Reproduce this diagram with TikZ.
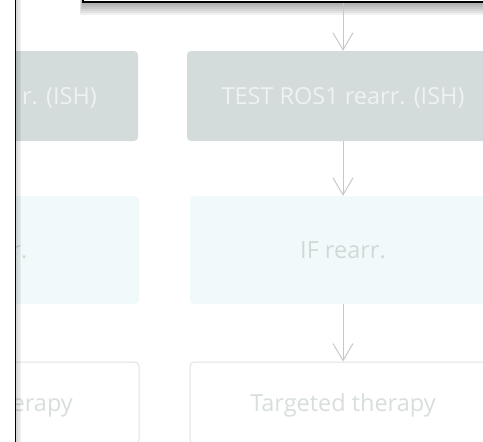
\documentclass[tikz,border=0pt]{standalone}
\usepackage{fontspec}
\setmainfont{Open Sans}
\usetikzlibrary{arrows.meta}

\definecolor{testfill}{HTML}{D3DCDB}
\definecolor{testtext}{HTML}{EEF2F1}
\definecolor{iffill}{HTML}{F1FAFA}
\definecolor{iftext}{HTML}{D2D7D7}
\definecolor{txline}{HTML}{DDE3E3}
\definecolor{txtext}{HTML}{D8DEDE}
\definecolor{arrowgray}{HTML}{C6C8C8}

\begin{document}
\begin{tikzpicture}[x=1pt,y=-1pt,
  box/.style={rectangle, rounded corners=4pt, inner sep=0pt, text depth=0pt,
    font=\fontsize{23.5}{28}\selectfont},
  testbox/.style={box, fill=testfill, text=testtext,
    minimum width=312pt, minimum height=90pt},
  ifbox/.style={box, fill=iffill, text=iftext,
    minimum width=306pt, minimum height=108pt},
  txbox/.style={box, draw=txline, line width=1pt, fill=white, text=txtext,
    minimum width=306pt, minimum height=82pt},
  partial/.style={anchor=base east, inner sep=0pt,
    font=\fontsize{23.5}{28}\selectfont},
  flow/.style={draw=arrowgray, line width=1pt,
    -{Straight Barb[length=17pt,width=20pt]}},
  panel/.style={rectangle, fill=white, draw=black, line width=1.1pt,
    inner sep=0pt, minimum width=520pt, minimum height=62pt}
]
\useasboundingbox (0,0) rectangle (483,442);
\begin{scope}
\clip (0,0) rectangle (483,442);

% left column (mostly hidden)
\node[testbox] (l1) at (-18,96) {};
\node[ifbox]   (l2) at (-14,250) {};
\node[txbox]   (l3) at (-14,403) {};

% right column
\node[testbox] (r1) at (343,96)  {TEST ROS1 rearr. (ISH)};
\node[ifbox]   (r2) at (343,250) {IF rearr.};
\node[txbox]   (r3) at (343,403) {Targeted therapy};

\coordinate (e1) at (97,0);
\coordinate (e2) at (27.5,0);
\coordinate (e3) at (73,0);
\node[partial, text=testtext] (t1) at (r1.base -| e1) {r. (ISH)};
\node[partial, text=iftext]   (t2) at (r2.base -| e2) {r.};
\node[partial, text=txtext]   (t3) at (r3.base -| e3) {erapy};

% overlay panel on the left with its soft shadow
\foreach \w in {18,19.5,21}
  \fill[black, opacity=0.05] (0,-10) rectangle (\w,460);
\fill[white] (0,-10) rectangle (15.5,460);
\draw[black, line width=1.3pt] (15.5,-10) -- (15.5,460);

% overlay panel at the top with its shadow
\foreach \b/\l in {5/82,7/81.5,9/81,11/80.5,13/80,15/79.5}
  \fill[black, opacity=0.06] (\l,-70) rectangle (620,\b);
\node[panel] (top) at (343,-29) {};

% connectors
\draw[flow] (top.south) -- (r1.north);
\draw[flow] (r1.south) -- (r2.north);
\draw[flow] (r2.south) -- (r3.north);
\end{scope}
\end{tikzpicture}
\end{document}
